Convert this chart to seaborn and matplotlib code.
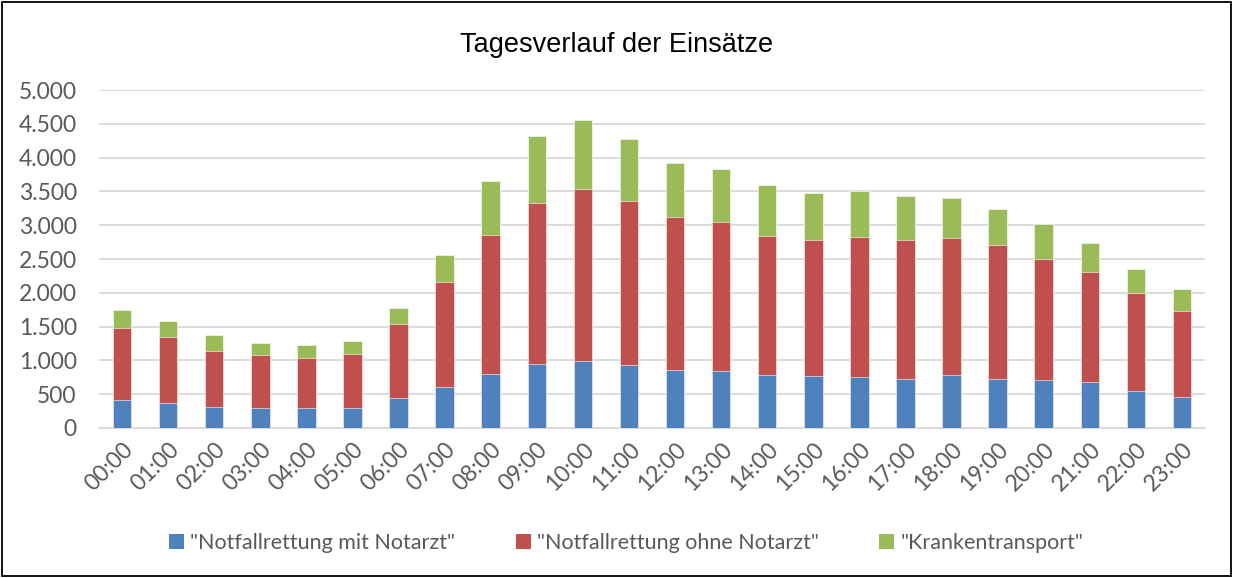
import matplotlib
matplotlib.use("Agg")
import matplotlib.pyplot as plt
import seaborn as sns
import pandas as pd
import numpy as np
from matplotlib.patches import Patch, Rectangle
from matplotlib.ticker import FuncFormatter

hours = ["00:00", "01:00", "02:00", "03:00", "04:00", "05:00", "06:00", "07:00",
         "08:00", "09:00", "10:00", "11:00", "12:00", "13:00", "14:00", "15:00",
         "16:00", "17:00", "18:00", "19:00", "20:00", "21:00", "22:00", "23:00"]
mit_notarzt = [408, 370, 311, 296, 296, 296, 448, 606, 793, 941, 991, 932,
               852, 843, 784, 763, 759, 725, 784, 729, 710, 675, 547, 458]
ohne_notarzt = [1075, 970, 832, 778, 734, 793, 1085, 1548, 2066, 2381, 2538, 2430,
                2263, 2204, 2056, 2022, 2060, 2050, 2026, 1972, 1790, 1626, 1444, 1277]
krankentransport = [267, 243, 232, 188, 202, 192, 246, 405, 789, 997, 1026, 917,
                    804, 788, 758, 685, 691, 651, 592, 538, 511, 435, 361, 321]
series_labels = ['"Notfallrettung mit Notarzt"', '"Notfallrettung ohne Notarzt"', '"Krankentransport"']
colors = ["#4F81BD", "#C0504D", "#9BBB59"]
title = "Tagesverlauf der Einsätze"

df = pd.DataFrame({"hour": hours, "a": mit_notarzt, "b": ohne_notarzt, "c": krankentransport})
df["top_b"] = df["a"] + df["b"]
df["top_c"] = df["top_b"] + df["c"]

sns.set_theme(style="white")
plt.rcParams["font.family"] = ["Lato", "DejaVu Sans"]

fig = plt.figure(figsize=(12.33, 5.78), dpi=100)
ax = fig.add_axes([99 / 1233, 1 - 428 / 578, (1205 - 99) / 1233, (428 - 90) / 578])

for col, c in [("top_c", colors[2]), ("top_b", colors[1]), ("a", colors[0])]:
    sns.barplot(data=df, x="hour", y=col, color=c, width=0.4, ax=ax,
                saturation=1, edgecolor="white", linewidth=0.4, zorder=3)

ax.set_ylim(0, 5000)
ax.set_xlim(-0.5, len(hours) - 0.5)
ax.set_yticks(np.arange(0, 5001, 500))
ax.yaxis.set_major_formatter(FuncFormatter(lambda v, p: f"{int(v):,}".replace(",", ".")))
ax.grid(axis="y", color="#d9d9d9", linewidth=1.3, zorder=0)
ax.set_axisbelow(True)
for s in ["top", "right", "left"]:
    ax.spines[s].set_visible(False)
ax.spines["bottom"].set_color("#d9d9d9")
ax.spines["bottom"].set_linewidth(1.3)
ax.set_xlabel("")
ax.set_ylabel("")
ax.tick_params(axis="y", labelsize=16.5, labelcolor="#595959", length=0, pad=16)
ax.tick_params(axis="x", labelsize=16.5, labelcolor="#595959", length=0, pad=8)
plt.setp(ax.get_xticklabels(), rotation=45, ha="right", rotation_mode="anchor")

fig.text(0.5, 1 - 45 / 578, title, ha="center", va="center", fontsize=19.5,
         family=["Liberation Sans", "DejaVu Sans"], color="black")

handles = [Patch(facecolor=c, edgecolor="none") for c in colors]
fig.legend(handles, series_labels, loc="center", bbox_to_anchor=(0.508, 1 - 543 / 578),
           ncol=3, frameon=False, fontsize=15.5, handlelength=0.7, handleheight=0.7,
           columnspacing=2.8, handletextpad=0.3, labelcolor="#595959")

fig.patches.append(Rectangle((0.002, 0.003), 0.996, 0.994, transform=fig.transFigure,
                             fill=False, edgecolor="black", linewidth=1.3))

fig.savefig("out.png", dpi=100)
